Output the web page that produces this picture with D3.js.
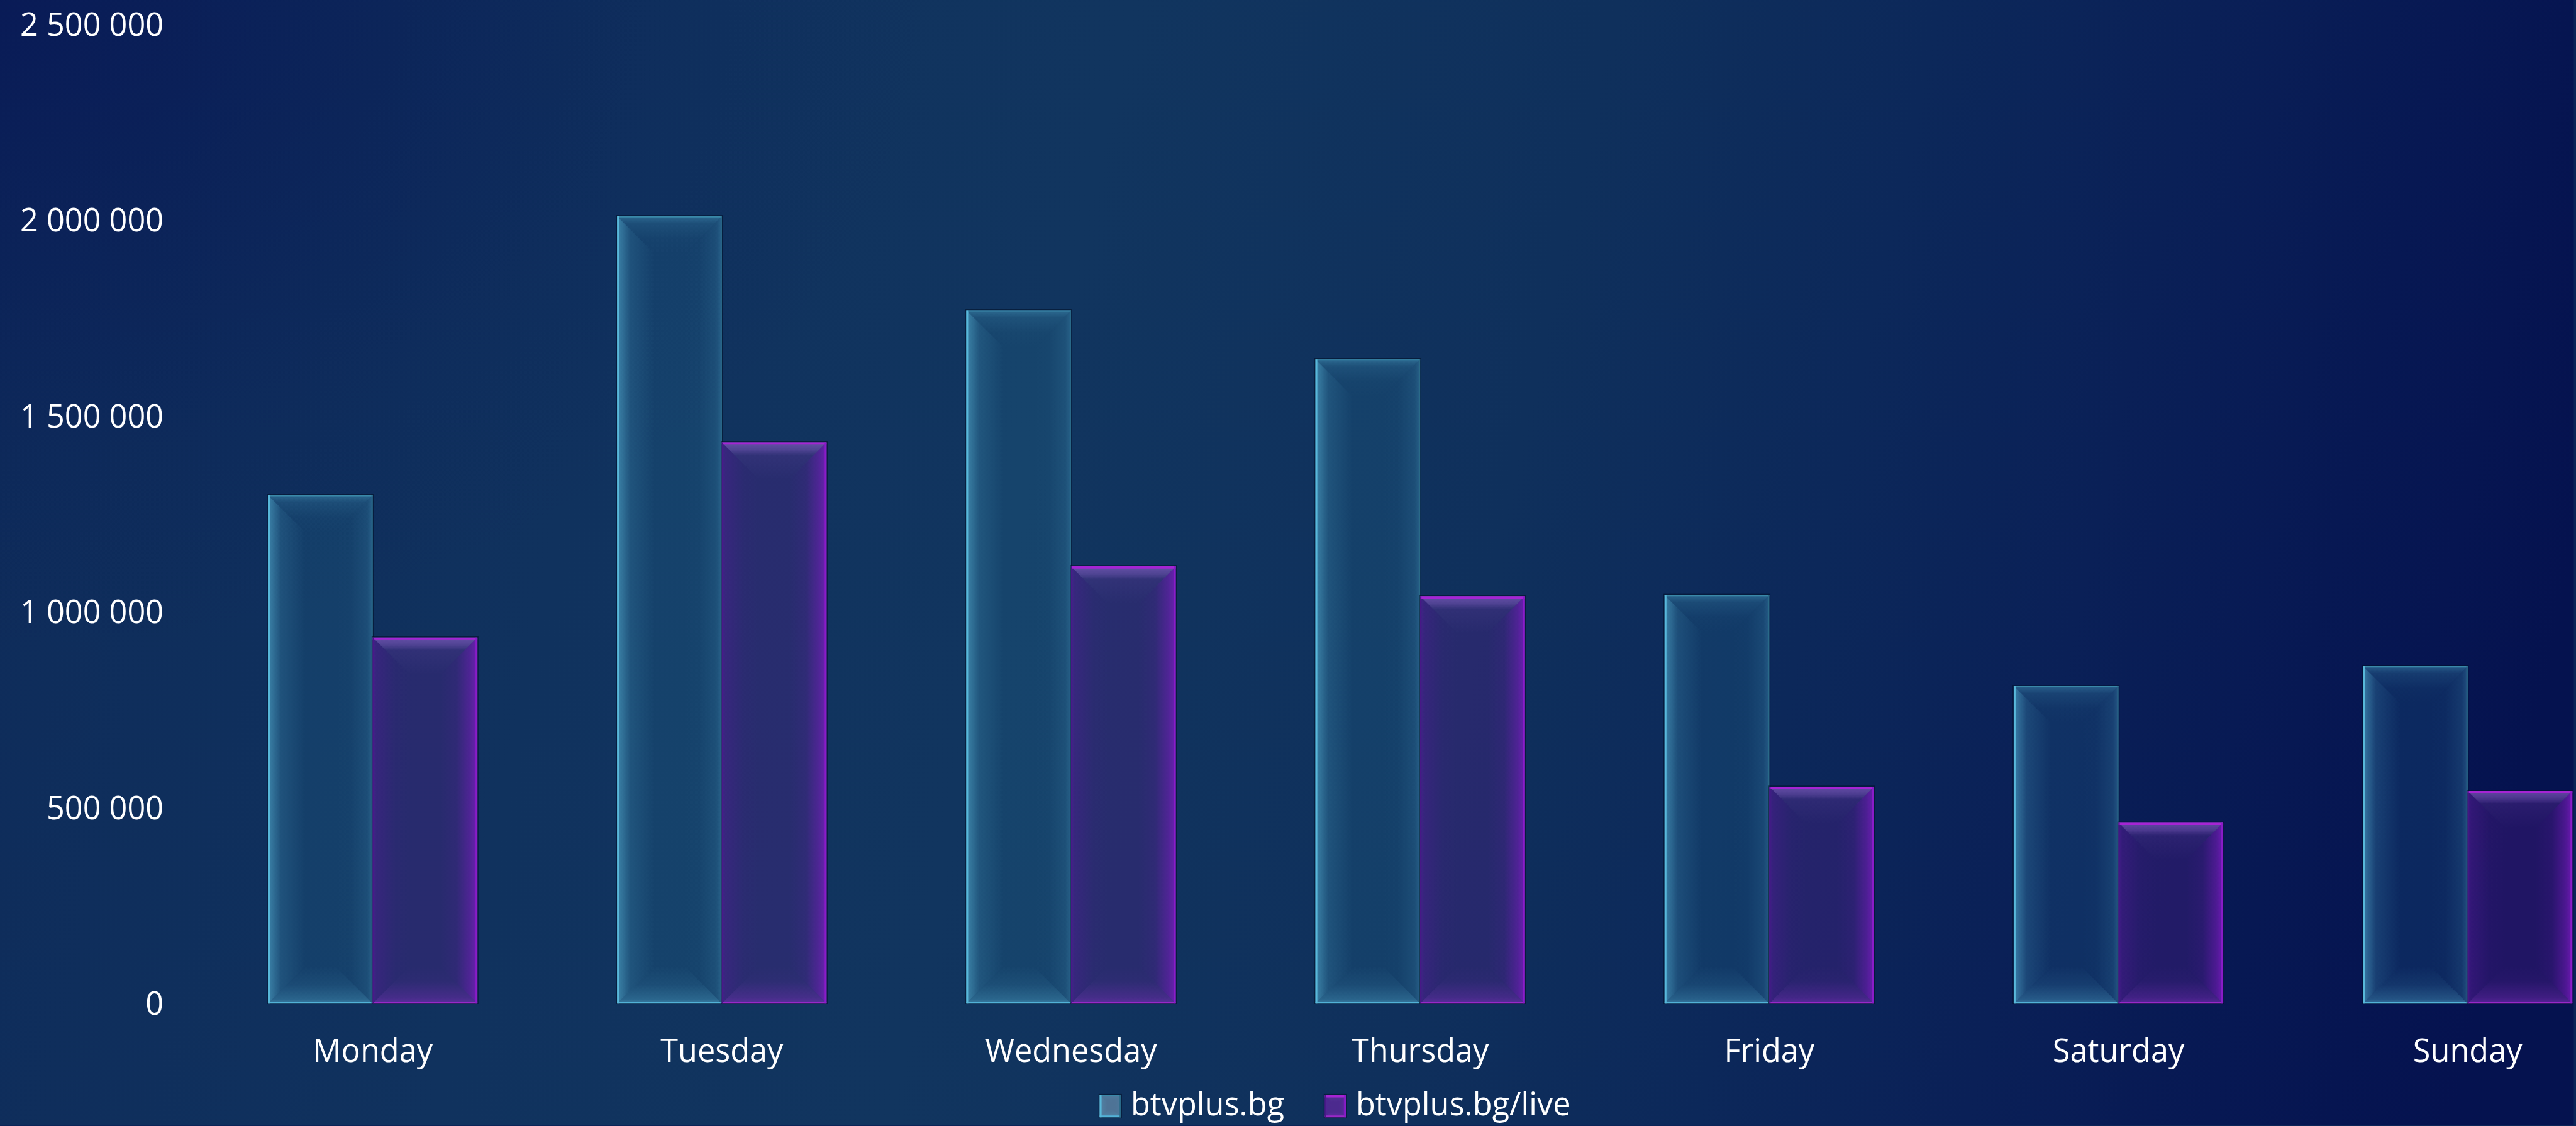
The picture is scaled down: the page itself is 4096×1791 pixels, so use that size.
<!DOCTYPE html>
<head>
  <meta charset="utf-8" />
  <script src="https://d3js.org/d3.v7.min.js"></script>
  <style>
    body { margin: 0; background: #0b2458; overflow: hidden; }
    text { font-family: "Open Sans", sans-serif; fill: #fff; }
  </style>
</head>
<body>
<script>
// data
var days = ["Monday", "Tuesday", "Wednesday", "Thursday", "Friday", "Saturday", "Sunday"];
var seriesNames = ["btvplus.bg", "btvplus.bg/live"];
var siteViews = [1298000, 2010000, 1770000, 1645000, 1043000, 811000, 862000];
var liveViews = [935000, 1433000, 1116000, 1040000, 554000, 462000, 543000];
var yTicks = [0, 500000, 1000000, 1500000, 2000000, 2500000];

var k = 0.989; // reference is 4138 x 1809, window 4096 x 1791
var fontSize = 51;

var svg = d3.select("body").append("svg")
  .attr("width", 4096)
  .attr("height", 1791);
var defs = svg.append("defs");
var g = svg.append("g").attr("transform", "scale(" + k + ")");

// background: mostly horizontal gradient, dark to the right
var bg = defs.append("linearGradient").attr("id", "bg")
  .attr("gradientUnits", "userSpaceOnUse")
  .attr("x1", 0).attr("y1", 0).attr("x2", 4138).attr("y2", 900);
[[0, "#0e2b5a"], [0.25, "#10325e"], [0.42, "#11355f"], [0.6, "#0f305c"],
 [0.72, "#0c285a"], [0.82, "#0a2057"], [0.91, "#071853"], [1, "#05124f"]]
  .forEach(function (s) { bg.append("stop").attr("offset", s[0]).attr("stop-color", s[1]); });
g.append("rect").attr("width", 4138).attr("height", 1809).attr("fill", "url(#bg)");

// darker top-left corner
var corner = defs.append("radialGradient").attr("id", "corner")
  .attr("gradientUnits", "userSpaceOnUse")
  .attr("cx", 0).attr("cy", 0).attr("r", 1500)
  .attr("gradientTransform", "scale(1,0.7)");
[[0, 0.85], [0.35, 0.5], [0.7, 0.15], [1, 0]]
  .forEach(function (s) {
    corner.append("stop").attr("offset", s[0]).attr("stop-color", "#081856").attr("stop-opacity", s[1]);
  });
g.append("rect").attr("width", 4138).attr("height", 1809).attr("fill", "url(#corner)");

// fade gradients for the bevel frame
function fade(id, dir, color, stops) {
  var c = { left: [0, 0, 1, 0], right: [1, 0, 0, 0], top: [0, 0, 0, 1], bottom: [0, 1, 0, 0] }[dir];
  var lg = defs.append("linearGradient").attr("id", id)
    .attr("x1", c[0]).attr("y1", c[1]).attr("x2", c[2]).attr("y2", c[3]);
  stops.forEach(function (s) {
    lg.append("stop").attr("offset", s[0]).attr("stop-color", color).attr("stop-opacity", s[1]);
  });
}

var styles = [
  {
    id: "cy", fill: "rgba(47,140,170,0.17)", swatch: "#4e7396",
    sides: {
      left: ["#5ab6d8", [[0, 0.75], [0.06, 0.5], [0.35, 0.16], [1, 0]]],
      top: ["#4a9cc0", [[0, 0.45], [0.2, 0.16], [0.6, 0.03], [1, 0]]],
      right: ["#4a9cc0", [[0, 0.35], [0.15, 0.15], [0.6, 0.02], [1, 0]]],
      bottom: ["#5ab6d8", [[0, 0.55], [0.12, 0.3], [0.5, 0.1], [1, 0]]]
    },
    lines: { top: ["#3a88a8", 2], right: ["#2a6a88", 2], bottom: ["#52b2d8", 3], left: ["#58b8da", 3] }
  },
  {
    id: "pu", fill: "rgba(95,30,150,0.30)", swatch: "#4c2a8e",
    sides: {
      left: ["#5a1aa0", [[0, 0.55], [0.1, 0.3], [0.6, 0.05], [1, 0]]],
      top: ["#9a70d8", [[0, 0.55], [0.2, 0.35], [0.35, 0.08], [1, 0]]],
      right: ["#8a1ad0", [[0, 0.7], [0.2, 0.4], [0.55, 0.08], [1, 0]]],
      bottom: ["#8a30c8", [[0, 0.55], [0.15, 0.3], [0.6, 0.05], [1, 0]]]
    },
    lines: { top: ["#a624d4", 4], right: ["#8a1cc8", 3], bottom: ["#9a28c8", 3], left: ["#4a1888", 2] }
  }
];
styles.forEach(function (st) {
  Object.keys(st.sides).forEach(function (side) {
    fade(st.id + "-" + side, side, st.sides[side][0], st.sides[side][1]);
  });
});

function drawBar(parent, x, y, w, h, st, b, fill) {
  var x1 = x + w, y1 = y + h;
  var bar = parent.append("g");
  bar.append("rect").attr("x", x).attr("y", y).attr("width", w).attr("height", h)
    .attr("fill", fill || st.fill);
  var frame = {
    left: [[x, y], [x + b, y + b], [x + b, y1 - b], [x, y1]],
    right: [[x1, y], [x1 - b, y + b], [x1 - b, y1 - b], [x1, y1]],
    top: [[x, y], [x1, y], [x1 - b, y + b], [x + b, y + b]],
    bottom: [[x, y1], [x1, y1], [x1 - b, y1 - b], [x + b, y1 - b]]
  };
  Object.keys(frame).forEach(function (side) {
    bar.append("polygon")
      .attr("points", frame[side].map(function (p) { return p.join(","); }).join(" "))
      .attr("fill", "url(#" + st.id + "-" + side + ")");
  });
  // dark outline then bright edges
  bar.append("rect").attr("x", x - 1).attr("y", y - 1).attr("width", w + 2).attr("height", h + 1)
    .attr("fill", "none").attr("stroke", "rgba(2,14,36,0.55)").attr("stroke-width", 1.5);
  var L = st.lines;
  var edges = {
    top: [x, y + L.top[1] / 2, x1, y + L.top[1] / 2],
    bottom: [x, y1 - L.bottom[1] / 2, x1, y1 - L.bottom[1] / 2],
    left: [x + L.left[1] / 2, y, x + L.left[1] / 2, y1],
    right: [x1 - L.right[1] / 2, y, x1 - L.right[1] / 2, y1]
  };
  Object.keys(edges).forEach(function (side) {
    var e = edges[side];
    bar.append("line").attr("x1", e[0]).attr("y1", e[1]).attr("x2", e[2]).attr("y2", e[3])
      .attr("stroke", L[side][0]).attr("stroke-width", L[side][1]);
  });
}

// scales
var x0 = d3.scaleBand().domain(days).range([318.5, 4248]).paddingInner(0.4).paddingOuter(0.2);
var x1 = d3.scaleBand().domain(seriesNames).range([0, x0.bandwidth()]);
var y = d3.scaleLinear().domain([0, 2500000]).range([1614, 39]);

var fmt = d3.formatLocale({ decimal: ",", thousands: " ", grouping: [3], currency: ["", ""] }).format(",d");

// bars
var series = [siteViews, liveViews];
series.forEach(function (vals, si) {
  days.forEach(function (d, i) {
    var bx = x0(d) + x1(seriesNames[si]);
    var by = y(vals[i]);
    drawBar(g, bx, by, x1.bandwidth(), y(0) - by, styles[si], 60);
  });
});

// y axis labels
var yAxis = g.append("g").attr("transform", "translate(263,0)")
  .call(d3.axisLeft(y).tickValues(yTicks).tickFormat(fmt).tickSize(0).tickPadding(0));
yAxis.select(".domain").remove();
yAxis.selectAll("text").attr("font-size", fontSize).attr("font-family", '"Open Sans", sans-serif')
  .attr("fill", "#fff").attr("dy", "0.35em");

// x axis labels
var xAxis = g.append("g").attr("transform", "translate(0," + y(0) + ")")
  .call(d3.axisBottom(x0).tickSize(0).tickPadding(0));
xAxis.select(".domain").remove();
xAxis.selectAll("text").attr("font-size", fontSize).attr("font-family", '"Open Sans", sans-serif')
  .attr("fill", "#fff").attr("y", 94).attr("dy", null);

// legend
var legendX = [1768, 2130];
var legend = g.append("g");
seriesNames.forEach(function (name, i) {
  drawBar(legend, legendX[i], 1761, 34, 36, styles[i], 12, styles[i].swatch);
  legend.append("text").attr("x", legendX[i] + 50).attr("y", 1794)
    .attr("font-size", fontSize).text(name);
});
</script>
</body>
